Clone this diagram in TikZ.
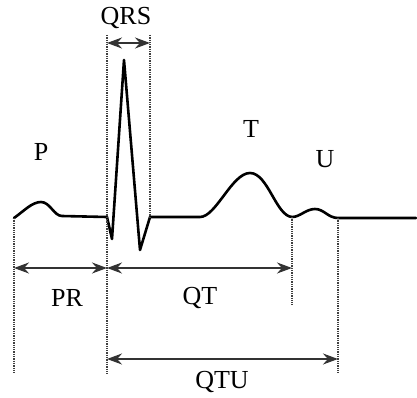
\documentclass[tikz,border=0pt]{standalone}
\usepackage{fontspec}
\setmainfont{Liberation Serif}
\usetikzlibrary{arrows.meta, positioning, calc}

\tikzset{
  wave/.style={line width=2.6pt, line join=round, line cap=round},
  guide/.style={densely dotted, line width=1.3pt, black!75},
  span/.style={line width=1.6pt, black!80, {Stealth[length=15pt,width=11pt]}-{Stealth[length=15pt,width=11pt]}},
  lbl/.style={font=\fontsize{26}{30}\selectfont, inner sep=0pt}
}

\begin{document}
\begin{tikzpicture}[x=1pt, y=-1pt]
  \useasboundingbox (0,0) rectangle (417,398);

  % Key points of the trace
  \coordinate (start) at (14,218);
  \coordinate (ppeak) at (41,202);
  \coordinate (pend)  at (62,216);
  \coordinate (qon)   at (107,217);
  \coordinate (q)     at (112,239);
  \coordinate (r)     at (124,60);
  \coordinate (s)     at (140,250);
  \coordinate (soff)  at (150,217);
  \coordinate (ton)   at (200,217);
  \coordinate (tpeak) at (250,173);
  \coordinate (tend)  at (292,217);
  \coordinate (upeak) at (315,209);
  \coordinate (uend)  at (338,218);
  \coordinate (stop)  at (416,218);

  % ECG trace
  \draw[wave] (start) .. controls (24,211) and (32,202) .. (ppeak)
    .. controls (50,202) and (54,216) .. (pend) -- (qon) -- (q) -- (r) -- (s) -- (soff)
    -- (ton) .. controls (216,217) and (232,173) .. (tpeak)
    .. controls (268,173) and (276,216) .. (tend)
    .. controls (300,217) and (306,209) .. (upeak)
    .. controls (324,209) and (328,218) .. (uend) -- (stop);

  % Guide lines
  \coordinate (g1) at (14,374);
  \coordinate (g2a) at (107,35);  \coordinate (g2b) at (107,374);
  \coordinate (g3) at (150,35);
  \coordinate (g4) at (292,305);
  \coordinate (g5) at (338,373);
  \draw[guide] (start) -- (g1);
  \draw[guide] (g2a) -- (g2b);
  \draw[guide] (g3) -- (soff);
  \draw[guide] (tend) -- (g4);
  \draw[guide] (uend) -- (g5);

  % Intervals
  \coordinate (qrsL) at (107,43);  \coordinate (qrsR) at (150,43);
  \coordinate (prL) at (14,268);   \coordinate (prR) at (107,268);
  \coordinate (qtR) at (292,268);
  \coordinate (qtuL) at (107,359); \coordinate (qtuR) at (338,359);
  \draw[span] (qrsL) -- (qrsR);
  \draw[span] (prL) -- (prR);
  \draw[span] (prR) -- (qtR);
  \draw[span] (qtuL) -- (qtuR);

  % Labels
  \node[lbl] (P)   at (41,152) {P};
  \node[lbl] (T)   at (251,129) {T};
  \node[lbl] (U)   at (325,159) {U};
  \node[lbl] (QRS) at (126,18) {QRS};
  \node[lbl] (PR)  at (67,298) {PR};
  \node[lbl] (QT)  at (200,298) {QT};
  \node[lbl] (QTU) at (222,382) {QTU};
\end{tikzpicture}
\end{document}
